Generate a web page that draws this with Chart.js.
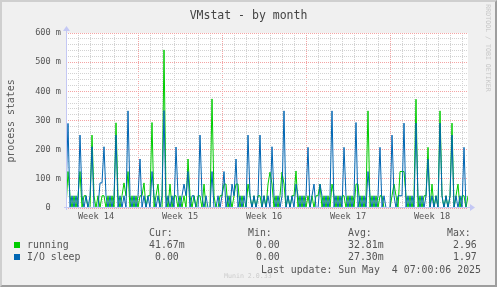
<!DOCTYPE html>
<html>
<head>
<meta charset="utf-8">
<title>VMstat - by month</title>
<script src="https://cdn.jsdelivr.net/npm/chart.js@4/dist/chart.umd.min.js"></script>
<style>
  body { margin: 0; background: #fff; }
  #graph {
    position: relative; width: 497px; height: 287px; overflow: hidden;
    background: #f0f0f0; font-family: 'DejaVu Sans Mono', monospace; color: #555;
  }
  #graph canvas { position: absolute; left: 0; top: 0; }
  #frame {
    position: absolute; left: 0; top: 0; width: 497px; height: 287px; box-sizing: border-box;
    border: 2px solid; border-color: #cfcfcf #9e9e9e #9e9e9e #cfcfcf; pointer-events: none;
  }
  .t { position: absolute; white-space: pre; font-size: 9.9px; line-height: 12px; }
  .sw { position: absolute; width: 6px; height: 6px; }
</style>
</head>
<body>
<div id="graph">
  <canvas id="vmstat" width="497" height="287"></canvas>
  <div class="t" style="left:0;width:497px;text-align:center;top:8px;font-size:11.5px;line-height:14px;color:#444">VMstat - by month</div>
  <div class="t" style="left:-49px;width:120px;text-align:center;top:115px;transform:rotate(-90deg)">process states</div>
  <div class="t" style="left:443px;width:90px;text-align:center;top:44px;font-size:6.6px;line-height:8px;color:#c8c8c8;transform:rotate(90deg)">RRDTOOL / TOBI OETIKER</div>

  <div class="t" style="left:149px;top:227px">Cur:</div>
  <div class="t" style="left:248px;top:227px">Min:</div>
  <div class="t" style="left:348px;top:227px">Avg:</div>
  <div class="t" style="left:447px;top:227px">Max:</div>

  <div class="sw" style="left:14px;top:242px;background:#00cc00"></div>
  <div class="t" style="left:27px;top:239px">running</div>
  <div class="t" style="left:149px;top:239px">41.67m</div>
  <div class="t" style="left:256px;top:239px">0.00</div>
  <div class="t" style="left:348px;top:239px">32.81m</div>
  <div class="t" style="left:453px;top:239px">2.96</div>

  <div class="sw" style="left:14px;top:254px;background:#0066b3"></div>
  <div class="t" style="left:27px;top:251px">I/O sleep</div>
  <div class="t" style="left:155px;top:251px">0.00</div>
  <div class="t" style="left:256px;top:251px">0.00</div>
  <div class="t" style="left:348px;top:251px">27.30m</div>
  <div class="t" style="left:453px;top:251px">1.97</div>

  <div class="t" style="left:261px;top:264px">Last update: Sun May  4 07:00:06 2025</div>
  <div class="t" style="left:224px;top:272px;font-size:6.6px;line-height:8px;color:#cccccc">Munin 2.0.33</div>
  <div id="frame"></div>
</div>

<script>
// samples every 4 hours (6 per day), values in milli-processes
const pointsPerDay = 6;

const running = [
  0, 125, 42, 0, 42, 0,
  42, 125, 0, 42, 42, 0,
  0, 250, 42, 0, 42, 0,
  42, 42, 0, 42, 0, 42,
  0, 292, 42, 0, 42, 86,
  42, 125, 0, 42, 0, 42,
  0, 42, 42, 86, 0, 42,
  42, 293, 0, 42, 82, 0,
  0, 542, 42, 0, 82, 0,
  42, 42, 0, 42, 0, 42,
  0, 168, 42, 0, 42, 0,
  42, 42, 0, 82, 0, 0,
  0, 374, 42, 0, 0, 42,
  42, 82, 82, 0, 42, 0,
  42, 82, 82, 0, 42, 0,
  0, 82, 42, 0, 42, 0,
  42, 42, 0, 42, 0, 82,
  123, 82, 0, 42, 0, 42,
  123, 82, 0, 42, 0, 42,
  42, 127, 0, 42, 0, 42,
  0, 42, 0, 42, 0, 42,
  42, 82, 0, 42, 0, 42,
  0, 82, 42, 0, 42, 0,
  42, 42, 0, 42, 0, 42,
  0, 82, 82, 0, 42, 0,
  42, 333, 0, 42, 0, 42,
  0, 42, 42, 0, 0, 0,
  0, 42, 82, 42, 0, 125,
  125, 125, 42, 0, 42, 0,
  42, 373, 0, 42, 0, 42,
  42, 208, 0, 82, 0, 42,
  0, 333, 42, 0, 42, 0,
  42, 291, 0, 42, 82, 0,
  42, 42, 0, 42
];

const ioSleep = [
  42, 290, 0, 42, 0, 42,
  0, 250, 42, 0, 42, 0,
  42, 210, 0, 0, 0, 86,
  86, 210, 42, 0, 42, 0,
  42, 250, 0, 42, 0, 42,
  0, 333, 42, 0, 42, 0,
  42, 168, 0, 42, 0, 42,
  0, 125, 42, 0, 42, 0,
  42, 334, 0, 42, 0, 42,
  0, 209, 42, 0, 42, 82,
  42, 125, 0, 42, 42, 0,
  0, 250, 42, 0, 42, 0,
  0, 125, 0, 0, 42, 0,
  42, 125, 0, 42, 0, 82,
  42, 168, 0, 42, 0, 42,
  0, 250, 42, 0, 42, 0,
  42, 250, 0, 42, 0, 42,
  0, 210, 42, 0, 42, 0,
  42, 333, 0, 42, 0, 42,
  0, 82, 42, 0, 42, 0,
  42, 208, 0, 42, 82, 0,
  0, 82, 42, 0, 42, 0,
  42, 333, 0, 42, 0, 42,
  0, 208, 42, 0, 42, 0,
  42, 293, 0, 42, 0, 42,
  0, 125, 42, 0, 42, 0,
  42, 208, 0, 42, 0, 0,
  0, 250, 42, 0, 42, 42,
  42, 291, 0, 42, 0, 42,
  0, 291, 42, 0, 42, 0,
  42, 167, 0, 42, 0, 42,
  0, 291, 42, 0, 42, 0,
  42, 250, 0, 42, 0, 42,
  0, 208, 0, 0
];

// x axis in days since the left edge of the graph
const weekLabels = ['Week 14', 'Week 15', 'Week 16', 'Week 17', 'Week 18'];
const weekCenters = [2.5, 9.5, 16.5, 23.5, 30.5];
const weekStarts = [6, 13, 20, 27];
const totalDays = 33.5;

const yMax = 600;
const yMinorStep = 20;
const yMajorStep = 100;

const monoFont = 'DejaVu Sans Mono';
const minorGrid = '#d2d2d2';
const majorGrid = '#f4a4a4';
const axisColor = '#c4c8f4';

function toPoints(values) {
  return values.map((v, i) => ({ x: i / pointsPerDay, y: v }));
}

// white plot area, then the rrdtool style axes with arrows
const rrdAxes = {
  id: 'rrdAxes',
  beforeDraw(chart) {
    const { ctx, chartArea: a } = chart;
    ctx.save();
    ctx.fillStyle = '#ffffff';
    ctx.fillRect(a.left, a.top, a.right - a.left, a.bottom - a.top);
    ctx.restore();
  },
  afterDatasetsDraw(chart) {
    const { ctx, chartArea: a } = chart;
    ctx.save();
    ctx.strokeStyle = axisColor;
    ctx.fillStyle = axisColor;
    ctx.lineWidth = 1;
    ctx.beginPath();
    ctx.moveTo(a.left - 2, a.bottom - 0.5);
    ctx.lineTo(a.right + 3, a.bottom - 0.5);
    ctx.moveTo(a.left + 0.5, a.bottom + 2);
    ctx.lineTo(a.left + 0.5, a.top - 3);
    ctx.stroke();
    ctx.beginPath();
    ctx.moveTo(a.right + 2, a.bottom - 4);
    ctx.lineTo(a.right + 7, a.bottom - 0.5);
    ctx.lineTo(a.right + 2, a.bottom + 3);
    ctx.closePath();
    ctx.fill();
    ctx.beginPath();
    ctx.moveTo(a.left - 3, a.top - 2);
    ctx.lineTo(a.left + 0.5, a.top - 7);
    ctx.lineTo(a.left + 4, a.top - 2);
    ctx.closePath();
    ctx.fill();
    ctx.restore();
  }
};

function buildXTicks(scale) {
  const values = [];
  for (let d = 0; d <= Math.floor(totalDays); d++) values.push(d);
  weekCenters.forEach(c => values.push(c));
  values.sort((a, b) => a - b);
  scale.ticks = values.map(v => ({ value: v }));
}

function buildYTicks(scale) {
  const values = [];
  for (let v = 0; v <= yMax; v += yMinorStep) values.push(v);
  scale.ticks = values.map(v => ({ value: v }));
}

function initChart() {
  const ctx = document.getElementById('vmstat').getContext('2d');
  new Chart(ctx, {
    type: 'line',
    data: {
      datasets: [{
        label: 'running',
        data: toPoints(running),
        borderColor: '#00cc00',
        borderWidth: 1,
        pointRadius: 0,
        tension: 0,
        fill: false,
        order: 2
      }, {
        label: 'I/O sleep',
        data: toPoints(ioSleep),
        borderColor: '#0066b3',
        borderWidth: 1,
        pointRadius: 0,
        tension: 0,
        fill: false,
        order: 1
      }]
    },
    options: {
      responsive: false,
      animation: false,
      events: [],
      layout: { padding: { left: 0, right: 29, top: 33, bottom: 0 } },
      plugins: {
        legend: { display: false },
        tooltip: { enabled: false },
        title: { display: false }
      },
      scales: {
        x: {
          type: 'linear',
          min: 0,
          max: totalDays,
          afterBuildTicks: buildXTicks,
          afterFit: s => { s.height = 79; },
          grid: {
            drawTicks: false,
            lineWidth: 1,
            color: c => {
              const v = c.tick.value;
              if (!Number.isInteger(v)) return 'rgba(0,0,0,0)';
              return weekStarts.includes(v) ? majorGrid : minorGrid;
            }
          },
          border: { display: false, dash: [1, 1] },
          ticks: {
            autoSkip: false,
            maxRotation: 0,
            padding: 4,
            color: '#555',
            font: { family: monoFont, size: 8.6 },
            callback: v => {
              const i = weekCenters.indexOf(v);
              return i >= 0 ? weekLabels[i] : '';
            }
          }
        },
        y: {
          type: 'linear',
          min: 0,
          max: yMax,
          afterBuildTicks: buildYTicks,
          afterFit: s => { s.width = 66; },
          grid: {
            drawTicks: false,
            lineWidth: 1,
            color: c => (c.tick.value % yMajorStep === 0 ? majorGrid : minorGrid)
          },
          border: { display: false, dash: [1, 1] },
          ticks: {
            autoSkip: false,
            padding: 5,
            color: '#555',
            font: { family: monoFont, size: 8.6 },
            callback: v => {
              if (v === 0) return '0  ';
              return v % yMajorStep === 0 ? v + ' m' : '';
            }
          }
        }
      }
    },
    plugins: [rrdAxes]
  });
}

document.addEventListener('DOMContentLoaded', initChart);
</script>
</body>
</html>
